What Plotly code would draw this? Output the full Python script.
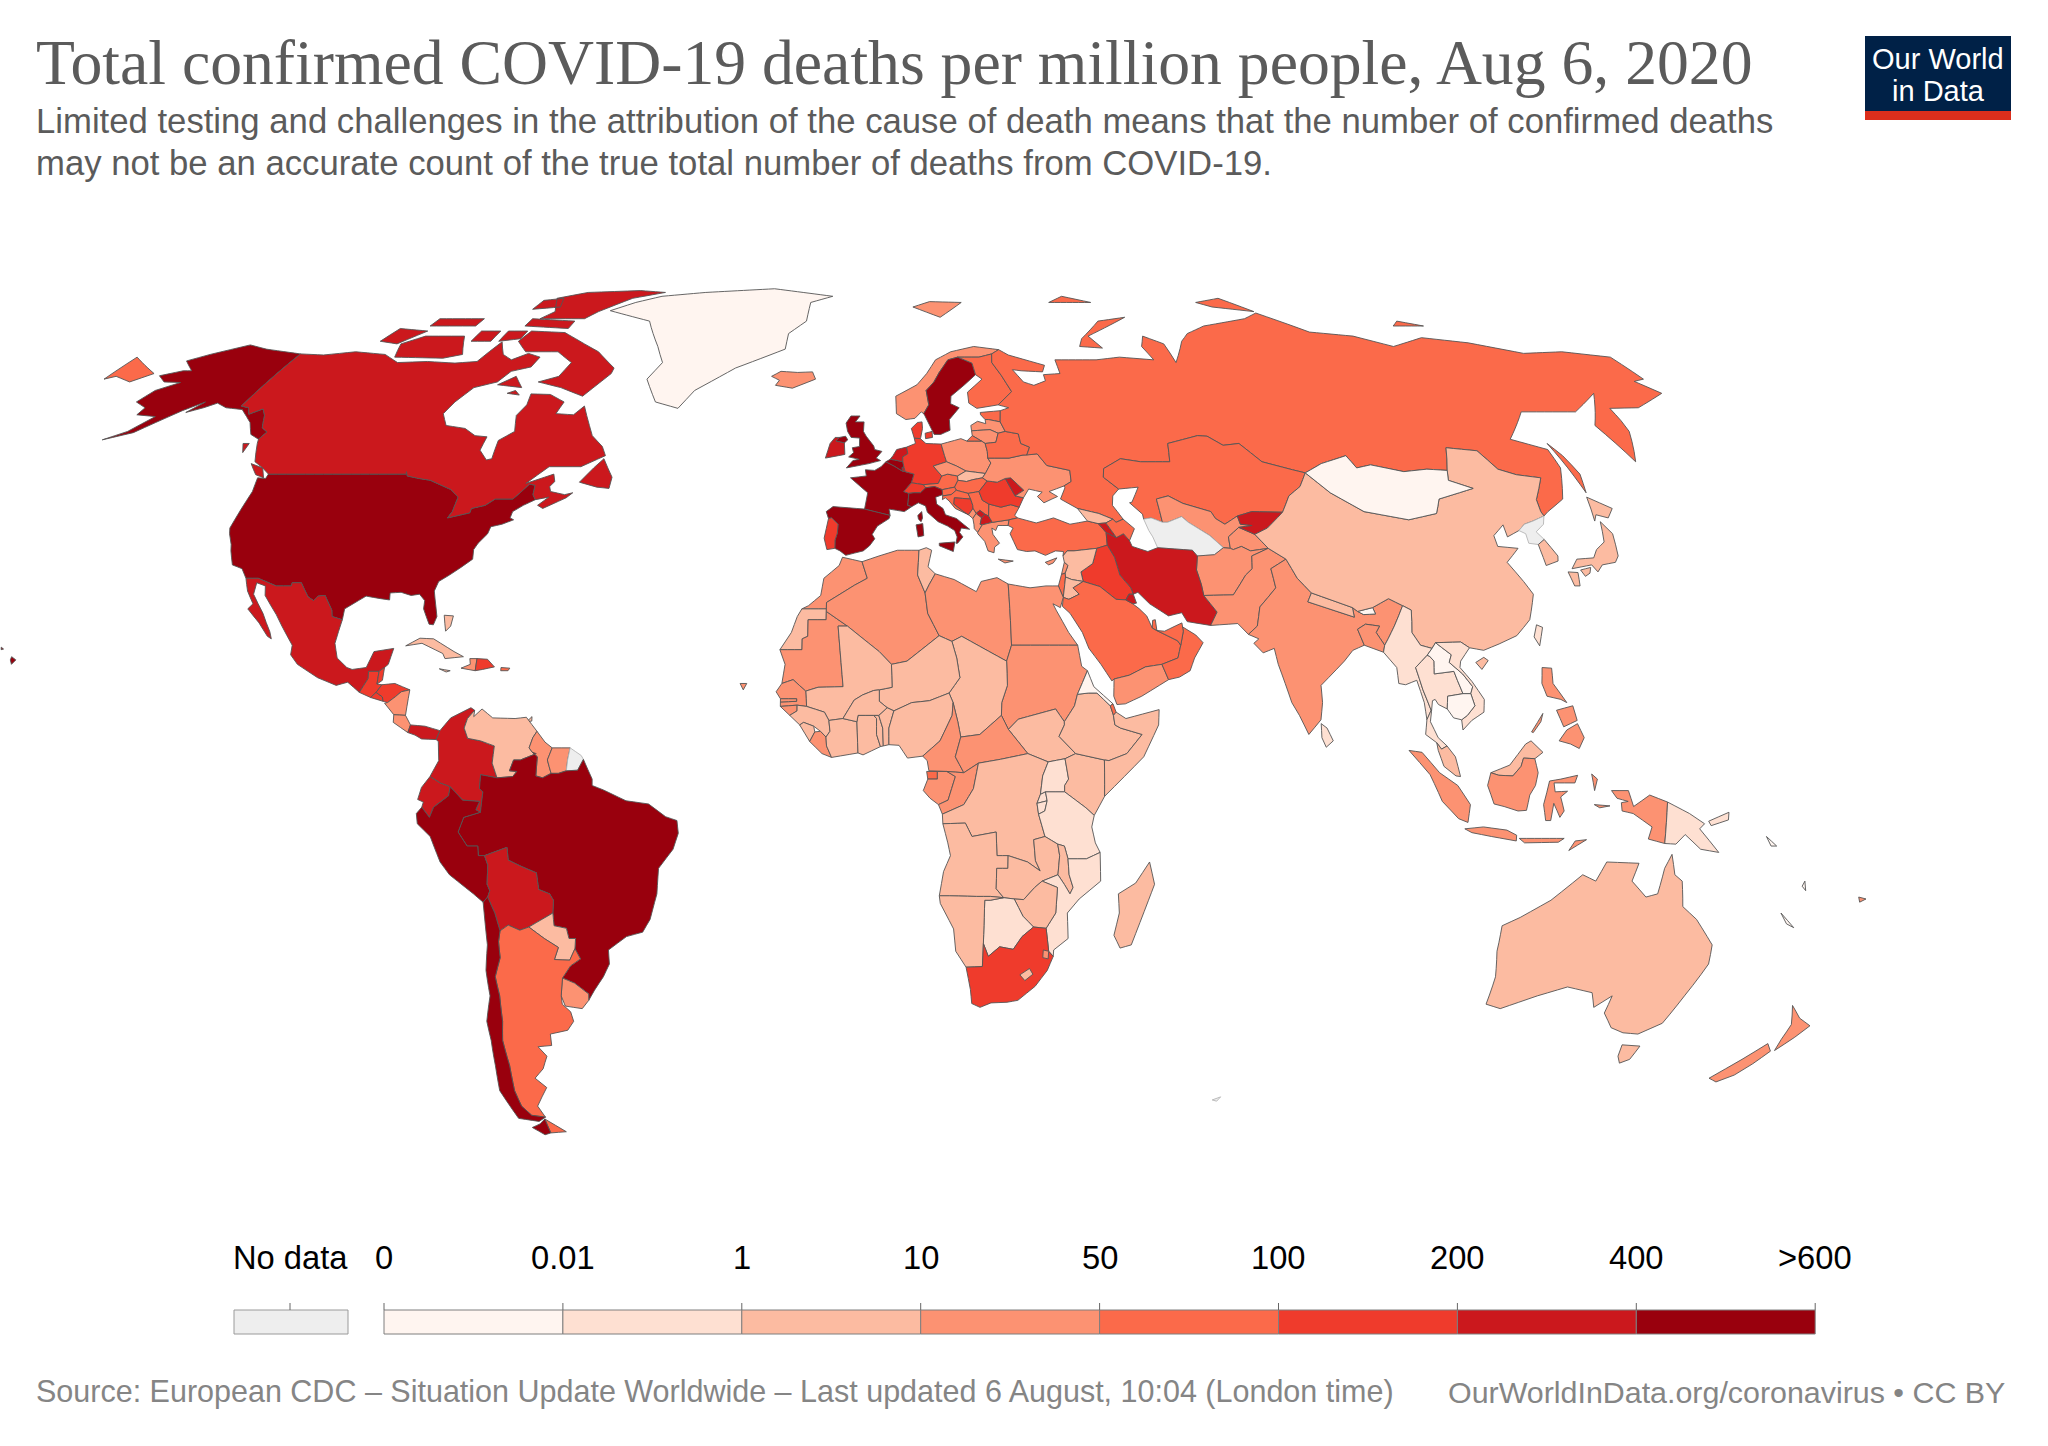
import plotly.graph_objects as go

# legend classes, lightest to darkest
bin_labels = ["0", "0.01", "1", "10", "50", "100", "200", "400", ">600"]
bin_colors = ["#fff5f0", "#fee0d2", "#fcbba1", "#fc9272", "#fb6a4a", "#ef3b2c", "#cb181d", "#99000d"]
no_data_color = "#eeeeee"

# class each country falls in
bin_0 = ["GRL", "MNG", "LAO", "KHM", "BTN", "ERI", "NCL", "VUT", "SLB"]
bin_1 = ["MMR", "THA", "VNM", "TWN", "LKA", "PNG", "UGA", "TZA", "RWA", "BDI", "MOZ", "BWA"]
bin_2 = ["CUB", "JAM", "VEN", "PRY", "SVK", "SYR", "JOR", "NPL", "MYS", "CHN", "JPN", "AUS", "KOR",
         "TUN", "ESH", "MLI", "NER", "TCD", "SSD", "ETH", "SOM", "KEN", "COD", "NGA", "BEN", "TGO",
         "GHA", "CIV", "GIN", "SLE", "BFA", "AGO", "ZMB", "MWI", "ZWE", "NAM", "LSO", "MDG", "GEO",
         "BHS", "TTO"]
bin_3 = ["NIC", "CRI", "GUY", "SUR", "URY", "ISL", "NOR", "POL", "CZE", "UKR", "LTU", "LVA", "HTI",
         "MNE", "ALB", "GRC", "CYP", "LBN", "YEM", "UZB", "TJK", "AFG", "PAK", "IND", "BGD",
         "IDN", "PHL", "NZL", "FJI", "MAR", "DZA", "LBY", "EGY", "MRT", "SDN", "COG", "GAB",
         "CMR", "CAF", "LBR", "GNB", "SEN", "GMB", "SWZ", "CPV"]
bin_4 = ["ARG", "AUT", "FIN", "HUN", "EST", "BGR", "SRB", "HRV", "SVN", "RUS", "TUR", "AZE", "ISR",
         "SAU", "QAT", "ARE", "OMN", "KAZ", "DJI", "BLR", "GNQ", "PRI"]
bin_5 = ["GTM", "HND", "SLV", "BLZ", "DOM", "PRT", "DEU", "CHE", "DNK", "ROU", "BIH", "IRQ", "ZAF"]
bin_6 = ["CAN", "MEX", "PAN", "COL", "ECU", "BOL", "IRL", "NLD", "LUX", "MDA", "MKD", "ARM", "IRN",
         "KWT", "KGZ", "XKX"]
bin_7 = ["USA", "PER", "BRA", "CHL", "GBR", "FRA", "ESP", "BEL", "ITA", "SWE"]
no_data = ["GUF", "TKM", "PRK", "ATF"]

# rough country outlines as lon,lat rings, estimated by eye
outlines = {
    "USA": [
        "-123,49 -95,49 -95.2,49.4 -94.6,48.7 -92,48.3 -89.5,48 -84.5,46.5 -82.5,45.3 -82.5,43 -83,42 -79,42.8 -79,43.5 -76.5,44 -75,45 -71.5,45 -70.3,46.2 -69.2,47.4 -68,47.2 -67.8,45.7 -67,44.9 -69,44 -70.7,43 -70.8,42 -70,41.7 -72,41 -74,40.6 -74.2,39.5 -75.5,38 -76,37 -75.7,35.5 -77.5,34.2 -79.3,33 -81,32 -81.4,30.5 -80.5,28 -80,26.5 -80.4,25.2 -81.2,25.3 -82.7,27.7 -82.8,29 -84,30 -85.5,29.8 -87.5,30.3 -89.5,30.2 -89.3,29.1 -91,29.3 -93.8,29.7 -95,29 -97.2,27.7 -97.2,26 -99.2,26.5 -99.5,27.5 -101.4,29.8 -102.7,29.7 -103.3,29 -104.5,29.6 -106.5,31.8 -108.2,31.8 -108.2,31.3 -111,31.3 -114.8,32.5 -117.1,32.5 -118.5,34 -120.6,34.6 -122,36.8 -122.5,37.8 -123.8,39.5 -124.3,40.4 -124.2,42 -124,46.2 -124.7,48.4 -123,48.3",
        "-141,69.6 -141,60.3 -139,60 -137.5,58.9 -135.5,59.8 -133.8,58.7 -131.8,56.6 -130,55.9 -130.5,54.7 -133,55.5 -135.5,57.5 -137.5,58.5 -140,59.7 -144,60 -147,60.8 -149,60 -151.8,59.2 -150,61 -153,59.5 -156,57.5 -158.5,55.8 -163.5,54.6 -160,56 -157.5,58.5 -162,58.8 -162,60 -165.5,61 -164.5,63 -161,64.4 -165,64.5 -168,65.6 -164,66.5 -162,66.5 -166.5,68.3 -163,69.5 -156.5,71.3 -151,70.5",
        "-155.9,20.2 -155,19.7 -155.6,19 -156,19.7",
        "-158.2,21.7 -157.7,21.4 -158.1,21.3",
    ],
    "CAN": [
        "-141,69.6 -135,69.4 -128,70 -120,69.5 -115,68 -108,68.2 -101,67.9 -96,68.2 -94,71.9 -91,69.5 -88,68.5 -85,69.7 -81.5,69 -82,67.2 -86,66.4 -87.5,64.5 -92,63.5 -94,61 -94.8,59 -92.5,57 -88,56.5 -85,55.3 -82.3,55.1 -82.3,52.9 -80,51.3 -79,51.5 -79.5,54.5 -77,56 -78.5,58.7 -77.5,60.5 -78,62.4 -73.5,62.3 -69.5,61 -70,59 -66,58.8 -64.5,60.3 -61.5,57 -60,55.3 -57,53.5 -55.7,52 -60,50.2 -66.5,50.2 -70,47.5 -65,49 -64.3,47.8 -65,47 -64.5,46.2 -61.5,45.7 -60,46 -61,45.2 -65,43.5 -66.2,44 -64.5,45.3 -67,44.9 -67.8,45.7 -68,47.2 -69.2,47.4 -70.3,46.2 -71.5,45 -75,45 -76.5,44 -79,43.5 -79,42.8 -83,42 -82.5,43 -82.5,45.3 -84.5,46.5 -89.5,48 -92,48.3 -94.6,48.7 -95.2,49.4 -95,49 -123,49 -125,50 -127.5,51 -130,54 -130.5,54.7 -130,55.9 -131.8,56.6 -133.8,58.7 -135.5,59.8 -137.5,58.9 -139,60 -141,60.3",
        "-62,66 -66,62 -72,63.5 -78,64.5 -74,65.5 -73,68 -78,70 -86,70 -90,72 -89,74 -80,73.7 -76,72.5 -68,70 -62,67",
        "-117,69 -105,68.8 -101,69.5 -105,73 -115,73 -119,71.5",
        "-125,72 -120,71.5 -116,74 -124,74.5",
        "-90,76.5 -78,76.5 -76,78 -70,81 -62,82.5 -70,83 -85,82.5 -92,81 -88,78",
        "-92,75 -80,74.5 -80,76 -92,76.5",
        "-95,72 -90,72.5 -90,74 -95,74",
        "-95,78.5 -88,79 -90,81 -95,80.5",
        "-117,75 -105,75 -105,76.5 -117,76.5",
        "-102,72 -97,72 -97,74 -102,74",
        "-59.3,47.7 -55.5,46.9 -53,46.7 -53,48.5 -55.8,51.5 -57.3,50",
        "-128,50.7 -125,50 -123.5,48.4 -125.5,48.9",
        "-87,64 -81,63.5 -84,65.5",
        "-83.5,62.5 -80.5,62.2 -82,63",
        "-133,54 -131.7,54 -131.5,52.5",
    ],
    "GRL": ["-73,78.2 -60,76 -54,71 -51,68 -53,65 -49,61 -43.5,59.9 -41,63 -33,67 -22,70.5 -22,73.5 -18,76 -18,80 -12,81.5 -30,83.5 -50,82.5 -62,81.5 -68,80"],
    "ISL": ["-24,65.5 -22,66.4 -18,66.2 -14.5,66.3 -13.6,65 -18.7,63.4 -22.7,63.9 -22,64.8"],
    "MEX": ["-117.1,32.5 -114.8,32.5 -111,31.3 -108.2,31.3 -108.2,31.8 -106.5,31.8 -104.5,29.6 -103.3,29 -102.7,29.7 -101.4,29.8 -99.5,27.5 -99.2,26.5 -97.2,26 -97.8,22.3 -97,20 -95,18.5 -94,18.2 -91.5,18.5 -90.5,21 -87,21.5 -87.6,19 -88.2,18.5 -89.1,17.9 -91,17.9 -90.9,16.8 -92.2,14.6 -94.5,16.2 -96.5,15.7 -100,16.9 -104,19 -105.5,20.5 -105.5,22 -108,25 -109.5,26.8 -112.5,29.8 -113,31.3 -114.8,31.8 -114.7,30 -112,27 -110,24.1 -109.5,23 -110.3,23.4 -112.3,25.5 -115,27.7 -114.3,28.5 -116,30.5"],
    "GTM": ["-92.2,14.6 -90.9,16.8 -91,17.9 -89.1,17.9 -89.2,15.9 -88.3,15.8 -89.2,14.6 -90.1,13.8"],
    "BLZ": ["-88.2,18.5 -89.1,17.9 -89.2,15.9 -88.3,16.5"],
    "SLV": ["-90.1,13.8 -89.2,14.6 -88,13.9 -87.8,13.2"],
    "HND": ["-88.3,15.8 -86,16 -83.2,15 -84.7,14.7 -85.7,13.9 -87,13 -87.8,13.2 -88,13.9 -89.2,14.6"],
    "NIC": ["-87,13 -85.7,13.9 -84.7,14.7 -83.2,15 -83.6,11 -85.7,11.1 -87.5,12.9"],
    "CRI": ["-85.7,11.1 -83.6,11 -82.6,9.5 -83,8.3 -85.7,9.9"],
    "PAN": ["-83,8.3 -82.6,9.5 -80,9.3 -77.3,8.6 -77.9,7.2 -80.5,7.3 -81.7,7.9"],
    "CUB": ["-84.9,21.9 -82.5,23.1 -80,23 -76,21 -74.2,20.2 -77.5,19.9 -78,20.7 -82,22.3"],
    "HTI": ["-74.4,18.4 -71.8,18 -71.7,19.9 -73,19.9 -72.8,19"],
    "DOM": ["-71.8,18 -71.7,19.9 -69.8,19.8 -68.4,18.6 -70.5,18.2"],
    "JAM": ["-78.3,18.3 -76.3,18 -77,17.8"],
    "PRI": ["-67.2,18.5 -65.6,18.4 -65.9,18 -67.2,18"],
    "BHS": ["-78.7,26.7 -77,26.6 -77.2,25 -78,24.2"],
    "TTO": ["-61.9,10 -61,10.8 -61,10.1"],
    "COL": ["-77.3,8.6 -75.5,10.6 -72,12.2 -71.3,11.8 -72.5,10.5 -73,9 -72.3,7.4 -70,7 -67.5,6.2 -67.8,3.5 -67.2,2 -66.9,1.2 -69.8,1.7 -70,-0.5 -69.4,-1 -69.9,-4.2 -70.7,-3.8 -70,-2.5 -73,-2.3 -75.2,-0.2 -77,0.4 -78.8,1.4 -77.3,3.9 -77.5,6.9 -77.9,7.2"],
    "VEN": ["-71.3,11.8 -71.4,10.8 -70,12 -68,10.6 -64,10.5 -62,10.7 -60,8.5 -60.7,7.5 -61.3,5.9 -60.7,5.2 -60,5 -62.8,4 -64,4 -64.7,2.3 -63.4,2.2 -64.1,1.4 -66.9,1.2 -67.2,2 -67.8,3.5 -67.5,6.2 -70,7 -72.3,7.4 -73,9 -72.5,10.5"],
    "GUY": ["-60,8.5 -58.5,6.8 -57.2,5.9 -58,4 -57.3,1.9 -58.8,1.2 -60,1.5 -59.8,4.5 -60.7,5.2 -61.3,5.9 -60.7,7.5"],
    "SUR": ["-57.2,5.9 -54,5.9 -54.4,4 -54.6,2.3 -56,1.9 -57.3,1.9 -58,4"],
    "GUF": ["-54,5.9 -52,4.7 -51.6,4.1 -52.6,2.4 -54.6,2.3 -54.4,4"],
    "BRA": ["-51.6,4.1 -50,1 -50,0 -48,-0.7 -44,-2.4 -40,-2.9 -37,-4.9 -35,-5.5 -34.8,-7.5 -35.8,-10 -38.5,-13 -39,-17 -40.5,-21 -42,-23 -45,-23.7 -48.5,-25.8 -48.6,-28 -50,-30 -52,-32.1 -53.4,-33.7 -53.2,-32.7 -55.5,-31 -57.6,-30.2 -55.8,-28.3 -53.8,-27.2 -54.6,-25.6 -54.3,-24 -55.5,-24 -55.8,-22.4 -58,-22 -58,-20 -57.7,-18 -58.3,-17 -60.2,-16.3 -60.4,-13.7 -63,-12.7 -65.3,-11.7 -65.4,-9.7 -69.5,-11 -70.6,-11 -70.6,-9.5 -72.5,-9.5 -74,-7.3 -72.9,-5 -69.9,-4.2 -69.4,-1 -70,-0.5 -69.8,1.7 -66.9,1.2 -64.1,1.4 -63.4,2.2 -64.7,2.3 -64,4 -62.8,4 -60,5 -60.7,5.2 -59.8,4.5 -60,1.5 -58.8,1.2 -57.3,1.9 -56,1.9 -54.6,2.3 -52.6,2.4"],
    "ECU": ["-78.8,1.4 -77,0.4 -75.2,-0.2 -75.5,-1.6 -78.2,-3.4 -79,-5 -80.3,-3.4 -80,-2.6 -81,-2.2 -80.3,-0.3"],
    "PER": ["-80.3,-3.4 -79,-5 -78.2,-3.4 -75.5,-1.6 -75.2,-0.2 -73,-2.3 -70,-2.5 -70.7,-3.8 -69.9,-4.2 -72.9,-5 -74,-7.3 -72.5,-9.5 -70.6,-9.5 -70.6,-11 -69.5,-11 -69,-12.5 -69.4,-15.5 -69,-16.5 -69.5,-17.5 -70.4,-18.3 -72,-17 -76,-14 -77.5,-12 -79,-8 -81.2,-6 -81.3,-4.4"],
    "BOL": ["-69.5,-11 -65.4,-9.7 -65.3,-11.7 -63,-12.7 -60.4,-13.7 -60.2,-16.3 -58.3,-17 -57.7,-18 -58,-20 -62.6,-22.2 -64.3,-22.7 -66.3,-21.9 -67.9,-22.8 -68.5,-20 -69.5,-17.5 -69,-16.5 -69.4,-15.5 -69,-12.5"],
    "PRY": ["-58,-20 -58,-22 -55.8,-22.4 -55.5,-24 -54.3,-24 -54.6,-25.6 -55.8,-27.4 -58.6,-27.3 -57.6,-25.4 -60,-24 -62.6,-22.2"],
    "URY": ["-57.6,-30.2 -55.5,-31 -53.2,-32.7 -53.4,-33.7 -54.9,-35 -58,-34.6 -58.4,-33"],
    "ARG": [
        "-66.3,-21.9 -64.3,-22.7 -62.6,-22.2 -60,-24 -57.6,-25.4 -58.6,-27.3 -55.8,-27.4 -54.6,-25.6 -53.8,-27.2 -55.8,-28.3 -57.6,-30.2 -58.4,-33 -58.5,-34.3 -57.2,-35.5 -57,-37 -58.5,-38.4 -62,-39 -62.3,-40.8 -65,-41 -63.8,-42.5 -65.3,-44.5 -67.5,-46 -65.8,-47.5 -69,-50.5 -68.3,-52.3 -71,-52 -72.3,-50.5 -72.5,-48 -71.7,-44 -71.5,-40 -70.5,-37 -69.9,-33 -70,-30 -68.5,-27 -68.4,-24.5 -67.9,-22.8",
        "-68.6,-52.6 -65.2,-54.7 -68.6,-54.9",
    ],
    "CHL": [
        "-70.4,-18.3 -69.5,-17.5 -68.5,-20 -67.9,-22.8 -68.4,-24.5 -68.5,-27 -70,-30 -69.9,-33 -70.5,-37 -71.5,-40 -71.7,-44 -72.5,-48 -72.3,-50.5 -71,-52 -68.3,-52.3 -70,-53 -74,-52.5 -75.5,-48 -74.5,-44 -73.7,-40 -73.5,-37 -71.7,-33 -71.5,-29 -70.5,-25",
        "-68.6,-52.6 -68.6,-54.9 -70,-55.2 -72,-54 -70,-53.4",
    ],
    "GBR": [
        "-5.6,50 -1,50.7 1.4,51.2 0.5,51.6 1.7,52.7 0.2,53 0,53.6 -1.6,55.2 -2.2,56 -2.1,57.6 -4,57.6 -3,58.6 -5,58.6 -6,57.4 -5.6,56 -4.8,55 -3,54.9 -3,53.5 -4.5,53.3 -4.2,52.5 -5.2,51.8 -3,51.4 -4.3,51.2",
        "-6,55.2 -7.3,55 -8,54.4 -6.2,54.1 -5.5,54.6",
    ],
    "IRL": ["-7.3,55 -8,54.4 -6.2,54.1 -6,52.2 -10,51.6 -9.2,54 -8.2,55"],
    "FRA": [
        "2.5,51 4.2,50.3 5.8,49.5 6.4,49.4 8.2,49 7.6,47.6 6,46.2 7,45.9 6.7,44 7.5,43.8 6,43 3,43.4 3.2,42.4 -1.8,43.4 -1.2,46 -4.7,48.4 -1.5,48.7 -1.7,49.7 0.2,49.6 1.5,50.2",
        "8.6,42.4 9.4,43 9.5,42 9.2,41.4 8.7,41.8",
    ],
    "LUX": ["5.8,49.5 6.4,49.4 6.2,50.1 5.8,50.1"],
    "BEL": ["2.5,51 3.4,51.4 4.3,51.3 6,51 6.2,50.1 5.8,50.1 5.8,49.5 4.2,50.3"],
    "NLD": ["3.4,51.4 4,52 4.8,53 6.9,53.4 7.1,52.3 6,51.8 6,51 4.3,51.3"],
    "DEU": ["6.9,53.4 8.8,54 8.6,54.9 9.9,54.8 11,54 14.2,53.9 14.7,52 15,51 12.2,50.3 13.8,48.7 13,47.5 10,47.3 7.6,47.6 8.2,49 6.4,49.4 6.2,50.1 6,51 6,51.8 7.1,52.3"],
    "DNK": [
        "8.6,54.9 8.1,56.5 9.5,57.5 10.5,57.6 10.5,56.5 10,55 9.9,54.8",
        "11,55.7 12.5,56 12.5,55 11,54.8",
    ],
    "CHE": ["6,46.2 7.6,47.6 10,47.3 10.4,46.8 9.3,46 8,46 7,45.9"],
    "AUT": ["10,47.3 13,47.5 13.8,48.7 15,49 17,48.7 17,48 16.2,46.9 13.7,46.5 12.2,47 10.4,46.8"],
    "ITA": [
        "7.5,43.8 6.7,44 7,45.9 8,46 9.3,46 10.4,46.8 12.2,47 13.7,46.5 13.7,45.7 12.3,45.3 12.4,44.2 13.6,43.5 14,42.5 16.1,41.9 18.5,40.2 16.9,40.4 16.5,39.7 17.1,39 16,38 15.7,38 16,39 15.6,40 14.3,40.7 12.5,41.4 10.5,42.9 10.2,43.9 8.8,44.4",
        "12.5,38 15.5,38.2 15.1,36.7 12.5,37.6",
        "8.2,40.9 9.5,41.1 9.6,39.2 8.5,39",
    ],
    "ESP": ["-9.3,43 -8,43.8 -1.8,43.4 3.2,42.4 3,41.9 0.7,40.7 -0.3,39.4 0.2,38.7 -0.8,37.6 -2,36.8 -5.3,36.1 -6.4,36.8 -7.4,37.2 -7.4,38.5 -7,39.6 -6.9,41 -8.2,42 -8.8,41.9"],
    "PRT": ["-8.8,41.9 -8.2,42 -6.9,41 -7,39.6 -7.4,38.5 -7.4,37.2 -8.9,37 -9.5,38.8"],
    "NOR": [
        "7,58 5,59 5,62 10,64 12.5,66 15,68.5 19,70 25,71 31,70.4 29,69.6 25.7,69 20.5,69 18,68.5 15.5,66.2 14,64.5 12,63 12.3,60.5 11,59 10.5,59.3 9,58.2",
        "11,79 18,76.8 25,80 16,80.2",
    ],
    "SWE": ["11,59 12.3,60.5 12,63 14,64.5 15.5,66.2 18,68.5 20.5,69 23.7,67.9 24,65.8 21,64 17.5,62 17.2,60.7 19,60 16.5,58 16.4,56.2 14.3,55.5 12.9,55.5 11.2,58.7"],
    "FIN": ["20.5,69 25.7,69 29,69.6 28.5,68 30,65.7 31.5,62.8 27.8,60.5 22.9,59.9 21.3,60.8 21.4,62.7 25.3,65 24,65.8 23.7,67.9"],
    "EST": ["23.5,59.2 28,59.5 27.5,57.6 25,58 24.3,58 23.5,58.8"],
    "LVA": ["21,56.1 21,57 22.6,57.7 24.3,57.3 24.3,58 25,58 27.5,57.6 28.2,56 26.6,55.7 25,56.3"],
    "LTU": ["21,56.1 25,56.3 26.6,55.7 25.8,54.2 23.5,54 22.8,54.4 21,55.3"],
    "POL": ["14.2,53.9 18.5,54.8 19.7,54.4 22.8,54.4 23.5,54 23.7,52.7 23.6,51.6 24.1,50.8 22.7,49.1 18.8,49.5 17,50.3 15,51 14.7,52"],
    "CZE": ["12.2,50.3 15,51 17,50.3 18.8,49.5 17,48.7 15,49 13.8,48.7"],
    "SVK": ["17,48.7 18.8,49.5 22.7,49.1 22,48.4 20,48.1 18.7,47.8 17,48"],
    "HUN": ["17,48 18.7,47.8 20,48.1 22,48.4 22.9,47.9 21,46.2 20.3,46.1 18.8,45.9 16.5,46.4 16.2,46.9"],
    "SVN": ["13.7,46.5 16.2,46.9 16.5,46.4 15.4,45.7 13.7,45.5 13.7,45.7"],
    "HRV": ["13.7,45.5 15.4,45.7 16.5,46.4 18.8,45.9 19.2,45 16,45.2 15.8,44.2 17.6,43 18.5,42.5 16,43.5 14.9,44.7 14.2,45.2 13.6,44.9"],
    "BIH": ["16,45.2 19.2,45 19.5,44 19.5,43.5 18.5,42.5 17.6,43 15.8,44.2"],
    "SRB": ["19.2,45 18.8,45.9 20.3,46.1 21,46.2 21.5,44.8 22.7,44.2 22.4,42.3 21.7,42.6 20.8,43.2 20,42.7 19.5,43.5 19.5,44"],
    "XKX": ["20,42.7 20.8,43.2 21.7,42.6 21,42"],
    "MNE": ["18.5,42.5 19.5,43.5 20,42.7 19.3,41.9"],
    "ALB": ["19.3,41.9 20,42.7 21,42 20.6,41 21,40.9 20,39.7 19.4,40.3 19.4,41"],
    "MKD": ["21,42 21.7,42.6 22.4,42.3 23,41.3 21,40.9 20.6,41"],
    "GRC": [
        "20,39.7 21,40.9 23,41.3 26.3,41.7 26,40.8 24,40.8 23.5,40 22.8,40.4 22.9,39.4 24,38 23,37.4 22.8,36.5 21.7,36.8 21.2,38.3 20,39.5",
        "23.5,35.5 26.3,35.2 24.7,34.9",
    ],
    "BGR": ["22.7,44.2 25,43.7 27,44.1 28.6,43.7 27.5,42.4 28,42 26.3,41.7 23,41.3 22.4,42.3"],
    "ROU": ["21.5,44.8 21,46.2 22.9,47.9 24.9,47.7 26.6,48.3 28.1,45.5 29.7,45.2 28.6,43.7 27,44.1 25,43.7 22.7,44.2"],
    "MDA": ["26.6,48.3 27.7,48.4 30,46.4 28.1,45.5"],
    "UKR": ["22.7,49.1 24.1,50.8 23.6,51.6 28,51.6 31,52.1 34,52.3 35.5,50.4 40,49.6 39.8,47.8 38.2,47.1 35,46.2 36.5,45.4 35.3,45 33.6,44.4 32.5,45.4 33.6,46.1 31,46.6 29.7,45.2 28.1,45.5 30,46.4 27.7,48.4 26.6,48.3 24.9,47.7 22.9,47.9 22,48.4"],
    "BLR": ["23.7,52.7 23.5,54 25.8,54.2 26.6,55.7 28.2,56 30.9,55.6 31,54 32.7,53.4 31.8,52.1 31,52.1 28,51.6 23.6,51.6"],
    "TUR": ["26.3,41.7 28,42 31.5,41.2 35,42 38,41 41.5,41.5 43.5,41.1 44.7,39.7 44.5,37.7 42.4,37.2 38,36.8 36.7,36.8 35.8,36 36,36.7 34.5,36.8 32.5,36.1 30.6,36.8 29,36.7 27.3,37 26.2,39.5 26.9,40.4 26,40.8"],
    "CYP": ["32.3,35 34.6,35.7 33.8,34.9 32.9,34.6"],
    "RUS": [
        "28,59.5 30,60 27.8,60.5 31.5,62.8 30,65.7 28.5,68 29,69.6 31,70.4 33,69.4 41,67.5 40,66.3 35,66.5 33,66.7 34.8,64.5 37,63.9 40,64.7 40,65.8 44,66 44,68.5 54,68.5 60,69 68,68.5 67,71 69,73 73,71.5 73,68 78,72 81,73.5 87,75 100,76.5 105,77.7 113,73.8 123,73 130,71 140,72.7 150,71.7 160,69.7 170,70 179.9,69 179.9,65 177,64.6 179.5,62.5 170,60 163.5,59.9 162.8,57.8 162,56 157,51 156,57 164,62.5 155,59.3 143,59.3 135,54.7 141,53 140.5,50 136.5,45 132,43 130.7,42.3 130.6,43 131.2,44.9 135,48.4 130.5,48.9 127.5,49.8 126,52.8 120,53.3 117,49.6 113,49.8 108,49.4 102,50.5 98.8,50 98,52 92,50.7 87.8,49.2 85.5,49.7 80,51 77,54 73.5,53.7 71,55.2 69,55.3 62,54 61,51 55,51 51,51.5 47,49.9 46.5,48.5 49,46.6 47.5,45.5 47,44 47.7,43 48.5,41.8 47,41.3 46.5,41.8 44,42.7 40,43.5 37,45 38.3,46.8 38.2,47.1 39.8,47.8 40,49.6 35.5,50.4 34,52.3 31.8,52.1 32.7,53.4 31,54 30.9,55.6 28.2,56 27.5,57.6",
        "21,55.3 22.8,54.4 19.7,54.4",
        "51.5,71 57,70.7 55,73 68,76.8 60,76 53,72.5",
        "142,54 143,52 143.5,49 142,46 142,50",
        "95,79 105,78 100,81 92,80",
        "137,75 145,75 140,76",
        "50,80 62,80 55,81.5",
        "-179.9,69 -175,67.5 -170,66 -173,64.5 -178,65.5 -179.9,65",
    ],
    "KAZ": ["46.5,48.5 47,49.9 51,51.5 55,51 61,51 62,54 69,55.3 71,55.2 73.5,53.7 77,54 80,51 85.5,49.7 87.8,49.2 85.5,47 82.5,45.5 80,42.9 74,43 70.9,42.3 68,41 66.5,41.9 66,43 61,44.3 58.5,45.5 56,45 56,41.3 54,42 52.5,41.8 52.5,42.6 50.5,44.4 51,44.5 53,46.9 49,46.6"],
    "UZB": ["56,45 58.5,45.5 61,44.3 66,43 66.5,41.9 68,41 70.9,42.3 71,41 73.2,40.8 70.5,40.5 68,39 67.8,37.2 66.5,37.3 64.5,39.2 61,41.3 60,42.2 57,41.3 56,41.3"],
    "TKM": ["52.5,41.8 54,42 56,41.3 57,41.3 60,42.2 61,41.3 64.5,39.2 66.5,37.3 64.5,36.2 61.2,36 60.5,36.9 54,37.3 53.5,39 53,40"],
    "TJK": ["67.8,37.2 68,39 70.5,40.5 73.2,39.4 75,37.2 71.5,36.8 70,37.5 68.3,37"],
    "KGZ": ["70.9,42.3 74,43 80,42.9 76,40.4 73.2,39.4 70.5,40.5 73.2,40.8 71,41"],
    "AFG": ["61.2,36 64.5,36.2 66.5,37.3 67.8,37.2 68.3,37 70,37.5 71.5,36.8 75,37.2 71.5,36 71,34 69.5,33 66.5,29.9 61,29.8 60.9,31.5 60.5,33.8"],
    "IRN": ["44.7,39.7 46.5,38.9 48,39.5 48.9,38.4 49.2,37.5 52,36.7 54,37.3 60.5,36.9 61.2,36 60.5,33.8 60.9,31.5 61,29.8 63,27.2 61.5,25.1 57.3,25.7 56.5,27.1 54,26.6 50.8,28.5 48.9,30.3 48,30 47.7,31 46,33 45.5,35.8 44.5,37.7"],
    "IRQ": ["44.5,37.7 45.5,35.8 46,33 47.7,31 48,30 47.2,30 46.5,29.1 44.7,29.2 42,31.2 39,32 38.8,33.5 41.2,34.8 42.4,37.2"],
    "SYR": ["35.8,36 36.7,36.8 38,36.8 42.4,37.2 41.2,34.8 38.8,33.5 39,32 36.9,32.3 35.8,32.7 35.8,33.3 36.5,34.5 35.9,35"],
    "LBN": ["35.9,35 36.5,34.5 35.8,33.3 35.1,33.1"],
    "ISR": ["35.1,33.1 35.8,33.3 35.8,32.7 35.5,31.5 35,29.5 34.3,31.3"],
    "JOR": ["35.8,32.7 36.9,32.3 39,32 37,31 38,30 36,29.2 35,29.5 35.5,31.5"],
    "SAU": ["35,29.5 36,29.2 38,30 37,31 39,32 42,31.2 44.7,29.2 46.5,29.1 47.7,28.5 48.8,27.7 50,26.6 50.8,24.7 51.6,24.3 55.2,22.7 55.7,22 55,20 52,19 49,18.6 46,17.3 43.2,16.7 42.8,16.4 41,19 39,21.5 38,24 36,27 34.7,28.1"],
    "YEM": ["43.2,16.7 46,17.3 49,18.6 52,19 53,16.6 48,14 45,12.8 43.5,12.7 43,14"],
    "OMN": ["52,19 55,20 55.7,22 56.4,24.2 56.3,24.9 58.6,23.6 59.8,22.4 58,20 57,18 55,17 53,16.6"],
    "ARE": ["51.6,24.3 55.2,22.7 55.7,22 56.4,24.2 56.3,25.5 55,25 53,24.2"],
    "QAT": ["50.8,24.7 51.6,24.3 51.5,26 51,25.9"],
    "KWT": ["46.5,29.1 47.2,30 48,30 48.4,28.6 47.7,28.5"],
    "GEO": ["40,43.5 44,42.7 46.5,41.8 45,41.2 43.5,41.1 41.5,41.5"],
    "ARM": ["43.5,41.1 45,41.2 46.5,38.9 44.7,39.7"],
    "AZE": ["45,41.2 46.5,41.8 47,41.3 48.5,41.8 50.3,40.3 48.9,38.4 48,39.5 46.5,38.9"],
    "PAK": ["61,29.8 66.5,29.9 69.5,33 71,34 71.5,36 75,37.2 77.8,35.5 74.5,34 74.6,31 71,28 70,25 68.2,23.7 66.5,25.4 61.5,25.1 63,27.2"],
    "IND": ["77.8,35.5 79,32.5 81,30.2 80,28.8 88,26.4 88,27.9 88.8,27.3 89.8,26.8 92,26.9 91.7,27.9 95,29.3 97.3,28.2 95,25 93.5,23 92.7,22 91.5,24 92.3,25 89.8,25.3 88.2,24.5 89,22 86.8,21.2 85,19.5 80.3,15.7 80.3,13 79.8,10.3 77.5,8 76,11 74.8,13 73,19 72.6,21.5 70.5,20.8 69,22.3 70,23 68.2,23.7 70,25 71,28 74.6,31 74.5,34"],
    "BGD": ["88.2,24.5 89.8,25.3 92.3,25 91.5,24 92.7,22 92.3,20.9 89,22"],
    "NPL": ["80,28.8 81,30.2 88,27.9 88,26.4"],
    "BTN": ["88.8,27.3 91.7,27.9 92,26.9 89.8,26.8"],
    "LKA": ["79.8,9.7 80.8,9 81.8,7 80.5,6 79.8,7.5"],
    "CHN": [
        "73.2,39.4 76,40.4 80,42.9 82.5,45.5 85.5,47 87.8,49.2 91,46 96,43 104,41.7 110,42.7 112,45 120,46.7 116,48 117,49.6 120,53.3 126,52.8 127.5,49.8 130.5,48.9 135,48.4 131.2,44.9 130.6,43 130.7,42.3 128,41.5 126,41 124.3,40 121.5,39 121.8,40.9 119,39.2 118.8,37.5 122.5,37.2 119.3,35 121,32 122,30 120,26 117,23.5 113.5,22.2 110.5,21.2 108,21.6 106.6,22.5 102,22.4 101.2,21.5 99.2,22 98,24 98.7,27.5 97.3,28.2 95,29.3 91.7,27.9 88.8,27.3 88,27.9 81,30.2 79,32.5 77.8,35.5 75,37.2",
        "108.7,19.3 110.3,20.1 111,19.6 109.6,18.2",
    ],
    "MNG": ["87.8,49.2 92,50.7 98,52 98.8,50 102,50.5 108,49.4 113,49.8 117,49.6 116,48 120,46.7 112,45 110,42.7 104,41.7 96,43 91,46"],
    "PRK": ["124.3,40 126,41 128,41.5 130.7,42.3 129.7,41 127.5,39.8 128.3,38.6 126.7,37.8 125,38 125.3,39.5"],
    "KOR": ["126.7,37.8 128.3,38.6 129.4,36 129,35.2 126.4,34.5 126.6,37"],
    "JPN": [
        "131,34 132.7,35.5 136,35.7 137.3,37 139.5,38.2 141,41.4 142,39.5 140.8,36 139.7,35 137,34.6 135.6,33.5 135,34.6 133,34.3",
        "140,41.5 141.5,45.3 145,43.5 143,42 141,42.5",
        "130,33.5 131.8,33.4 131.2,31.3 130.2,31.3",
        "132.5,33.8 134.6,34.2 134,33.3 132.9,32.8",
    ],
    "TWN": ["121,25.2 122,24.8 120.8,21.9 120.1,23.3"],
    "MMR": ["92.3,20.9 92.7,22 93.5,23 95,25 97.3,28.2 98.7,27.5 98,24 99.2,22 101.2,21.5 100.1,20.4 97.7,18.5 98.5,15 99.6,11.8 98.7,10.3 98.5,13 97.6,16.5 95.5,15.8 94.3,16 94.3,18.5"],
    "THA": ["100.1,20.4 100.5,20.3 101.2,19.5 100.9,17.5 104.5,17.9 104.9,16.5 105.6,14.4 102.8,14 102.5,12 101,12.7 100.5,13.5 100,13.3 99.3,10 100.5,7.5 102,6.2 101,5.7 100.2,6.7 98.3,8 98.7,10.3 99.6,11.8 98.5,15 97.7,18.5"],
    "LAO": ["101.2,21.5 102,22.4 102.9,21.7 104.5,20.5 103.9,19.3 106,17.5 107.5,15.5 107,14.4 105.6,14.4 104.9,16.5 104.5,17.9 100.9,17.5 101.2,19.5 100.5,20.3 100.1,20.4"],
    "VNM": ["102,22.4 106.6,22.5 108,21.6 106,19.5 105.7,18.5 107.5,16.3 109.3,13.5 109,11.5 106.7,10.2 105,8.7 104.9,10.3 106,11 107.5,12.5 107,14.4 107.5,15.5 106,17.5 103.9,19.3 104.5,20.5 102.9,21.7"],
    "KHM": ["102.5,12 102.8,14 105.6,14.4 107,14.4 107.5,12.5 106,11 104.9,10.3 103.5,10.6"],
    "MYS": [
        "100.2,6.7 101,5.7 102,6.2 103.4,4.5 104.2,1.4 103.4,1.5 101.3,3 100.4,5.5",
        "109.6,2 111,1.6 113.5,1.5 115,3 115.5,4.3 117.5,4.2 119,5.2 117,7 116,6.5 113,3.2 111.3,2.6",
    ],
    "IDN": [
        "95.2,5.5 97.5,5.2 100.5,2 103.7,0 106,-3 105.7,-5.8 104,-5.2 101,-2.5 98.8,1.7",
        "105.2,-6.8 108.5,-6.5 112.7,-7 114.5,-7.8 114.5,-8.7 110,-8 106.5,-7.4",
        "109.6,2 111,1.6 113.5,1.5 115,3 115.5,4.3 117.5,4.2 118,2 117.5,0 116.5,-1.5 116,-3.9 114.5,-4 112,-3.3 110.2,-2.9 109,0",
        "119.5,-5.5 119,-3 120,0.7 122,1 125,1.6 124.5,0.4 120.8,0.4 121,-1 123.2,-0.9 122,-1.8 122.7,-4 122,-5 120.8,-2.8 120.4,-5.5",
        "131,-0.8 134,-0.8 135,-3.3 137.8,-1.5 141,-2.6 141,-9.1 138,-8.4 138.5,-6.5 135,-4.4 133,-4 132.8,-2.7 134,-2.5 132,-2",
        "127.5,1.8 128.5,1 128,-0.8",
        "124,-10.2 127,-8.5 125,-8.7",
        "115,-8.3 119,-8.3 123,-8.3 122,-8.9 116,-9",
        "128,-3 130.8,-3.2 129,-3.5",
    ],
    "PHL": [
        "120.5,18.5 122.2,18.4 122,16 124,13 123,13.5 120.6,14 120,16",
        "122,7 123.5,8.7 125.5,9.7 126.5,7.5 125.5,5.8 124,6.5",
        "122,11.8 125,12.5 125.5,10.2 123,9.2",
        "117.2,8.4 119.5,11.3 119,10 117.5,8.3",
    ],
    "PNG": [
        "141,-2.6 145,-4.4 147.8,-6 147,-6.8 150.8,-10.5 147.5,-10 144.5,-7.7 143,-9.2 141,-9.1",
        "148.5,-5.6 152,-4.2 152,-5.4 149,-6.3",
    ],
    "AUS": [
        "114,-22 114,-26 115,-30 115,-34.3 118,-35 124,-33 129,-31.6 134,-32.5 135.5,-34.8 138,-33 138,-35.7 140.7,-38 143.5,-38.8 146.5,-39 150,-37.3 151.5,-33 153.5,-28 153,-25 149,-21 146,-19 145,-15 143.5,-14 142.5,-10.8 141.5,-13 141,-17 139,-17.5 136,-15 136.8,-12.2 131,-12 129.5,-15 127,-14 122,-18 117,-20.7",
        "144.7,-40.7 148.3,-40.9 148,-43 146.5,-43.6 145.3,-42.5",
    ],
    "NZL": [
        "172.7,-34.5 175.5,-36.5 178.4,-37.7 177,-39.5 175,-41.6 174.7,-39.8 174.7,-37.5",
        "172.7,-40.5 174.3,-41.7 172.8,-43.7 171,-45.5 168.5,-46.6 166.5,-46 170,-43",
    ],
    "NCL": ["164,-20 167,-22.3 165.5,-21.7"],
    "FJI": ["177.3,-17.5 178.7,-17.8 177.7,-18.3"],
    "VUT": ["167,-15 167.5,-16.5 166.7,-15.8"],
    "SLB": ["159,-8 161,-9.5 160,-9.5"],
    "ATF": ["69,-49.5 70.5,-49 70,-49.7"],
    "MAR": ["-5.9,35.8 -2.2,35.1 -1.2,32.5 -3.6,31.4 -8.7,28.7 -8.7,27.7 -13.2,27.7 -12,28.2 -9.8,29.8 -9.3,32.5 -6.5,34.5"],
    "ESH": ["-13.2,27.7 -8.7,27.7 -8.7,26 -12,26 -12,23.4 -13,23 -13,21.3 -17,21.3 -15,24 -14,26.5"],
    "MRT": ["-17,21.3 -13,21.3 -13,23 -12,23.4 -12,26 -8.7,26 -8.7,27.3 -4.8,25 -6.5,25 -5.5,15.5 -10,15.4 -12.2,14.8 -14.5,16.6 -16.5,16 -16,19"],
    "DZA": ["-2.2,35.1 1,36 4.5,36.9 8.6,36.9 8.2,33 9.5,30.2 9.9,27 11.9,23.5 6,19.5 3.2,19 1,21 -4.8,25 -8.7,27.3 -8.7,28.7 -3.6,31.4 -1.2,32.5"],
    "TUN": ["8.6,36.9 10,37.3 11,36.9 10.2,34.3 11.5,33.2 10.3,31.5 9.5,30.2 8.2,33"],
    "LBY": ["11.5,33.2 15,32.3 19,30.4 20,32 23,32.6 25,31.6 25,22 24,19.5 16,23.4 14.2,22.6 11.9,23.5 9.9,27 9.5,30.2 10.3,31.5"],
    "EGY": ["25,31.6 29,31 32,31.3 34.3,31.3 35,29.5 34.3,27.9 33,28.5 33.5,27.5 35.5,24 37,22 25,22"],
    "SDN": ["25,22 37,22 37.5,18.7 38.5,18 36.5,14.3 35.9,12.5 34,10 32.5,12 25.8,10.4 24,8.8 22.8,11 22.9,13 24,15.7 24,19.5"],
    "SSD": ["34,10 32.5,12 25.8,10.4 24,8.8 27.4,5 31,3.7 34,4.2 35.9,5 33,7.7 34,9.5"],
    "TCD": ["14.2,22.6 16,23.4 24,19.5 24,15.7 22.9,13 22.8,11 18.9,8 15.5,7.6 15,10 14.2,13 13.5,14.5 15.5,16.9 15,20"],
    "NER": ["3.2,19 6,19.5 11.9,23.5 14.2,22.6 15,20 15.5,16.9 13.5,14.5 10,13.3 6.8,13 3.6,11.7 2.4,12.2 1,13.2 1,15 3.3,15.4"],
    "MLI": ["-5.5,15.5 -6.5,25 -4.8,25 1,21 3.2,19 3.3,15.4 1,15 0,14.9 -2,14.2 -3.5,13.4 -5.5,10.5 -8,10.2 -8.8,11.5 -12,12.4 -12.2,14.8 -10,15.4"],
    "SEN": ["-16.5,16 -14.5,16.6 -12.2,14.8 -12,12.4 -13.7,12.6 -16.7,12.4 -16.7,13.1 -13.8,13.2 -13.8,13.6 -16.7,13.6 -17.5,14.7"],
    "GMB": ["-16.7,13.6 -13.8,13.6 -13.8,13.2 -16.7,13.1"],
    "GNB": ["-16.7,12.4 -13.7,12.6 -13.7,11.7 -15,11"],
    "GIN": ["-13.7,12.6 -12,12.4 -8.8,11.5 -8,10.2 -7.8,8.5 -8.5,7.6 -9.5,8.5 -10.7,9.3 -12.5,9.9 -13.2,9.5 -15,11 -13.7,11.7"],
    "SLE": ["-13.2,9.5 -12.5,9.9 -10.7,9.3 -10.5,8.4 -11.4,6.9"],
    "LBR": ["-11.4,6.9 -10.5,8.4 -9.5,8.5 -8.5,7.6 -8.4,6.2 -7.5,4.4 -9.2,5"],
    "CIV": ["-8.5,7.6 -7.8,8.5 -8,10.2 -5.5,10.5 -3,10 -2.8,5.1 -7.5,4.4 -8.4,6.2"],
    "GHA": ["-3,10 -2.8,11 0,11 0.5,10.5 0.5,8 1.2,6.1 -1.9,4.8 -2.8,5.1"],
    "TGO": ["0,11 0.9,11 1.6,9 1.7,6.2 1.2,6.1 0.5,8 0.5,10.5"],
    "BEN": ["0.9,11 2.4,12.2 3.6,11.7 2.7,9 2.7,6.4 1.7,6.2 1.6,9"],
    "BFA": ["-5.5,10.5 -3.5,13.4 -2,14.2 0,14.9 1,15 1,13.2 2.4,12.2 0.9,11 0,11 -2.8,11 -3,10"],
    "NGA": ["2.7,6.4 2.7,9 3.6,11.7 6.8,13 10,13.3 13.5,14.5 14.2,13 14,11 11.8,7 8.7,4.6 6,4.3 4.5,6.3"],
    "CMR": ["8.7,4.6 11.8,7 14,11 14.2,13 15,10 15.5,7.6 14.5,4.5 16,2 13,2.2 9.8,2.3 9.5,3.9"],
    "CAF": ["15.5,7.6 18.9,8 22.8,11 24,8.8 27.4,5 22.5,4.1 18.6,3.5 16,2 14.5,4.5"],
    "GNQ": ["9.4,2.2 11.3,2.2 11.3,1 9.6,1"],
    "GAB": ["9.6,1 11.3,1 11.3,2.2 13,2.2 14.5,1.4 13.2,-2.3 11.5,-3 10,-2 8.8,-0.8"],
    "COG": ["13,2.2 16,2 18.6,3.5 17.7,-0.5 16,-3 12.2,-4.5 11.5,-3 13.2,-2.3 14.5,1.4"],
    "COD": ["18.6,3.5 22.5,4.1 27.4,5 31,3.7 30,1.5 29.6,-1.4 29,-2.8 29.3,-4.5 30.5,-8 28.5,-8.5 28.9,-11.8 29.8,-13.4 27.5,-12 24,-11 22,-11 21.8,-7.3 17.5,-8 16.3,-5.9 12.3,-6 12.2,-4.5 16,-3 17.7,-0.5"],
    "UGA": ["30,1.5 31,3.7 34,4.2 34.6,1 33.9,0 33.9,-1 30.5,-1 29.6,-1.4"],
    "KEN": ["34,4.2 35.9,5 41,4 41,-1.7 39.2,-4.7 37.7,-3.5 33.9,-1 33.9,0 34.6,1"],
    "RWA": ["29.6,-1.4 30.5,-1 30.8,-2.4 29,-2.8"],
    "BDI": ["29,-2.8 30.8,-2.4 30.4,-4 29.3,-4.5"],
    "TZA": ["33.9,-1 37.7,-3.5 39.2,-4.7 38.8,-6.5 39.5,-9 40.4,-10.5 38,-11.5 34.7,-11.5 34,-9.5 32.8,-9.2 30.5,-8 29.3,-4.5 30.4,-4 30.8,-2.4 30.5,-1"],
    "ETH": ["36.5,14.3 38.5,14.5 40,14.5 42.3,12.5 42.8,11 43,9.5 44,9 47.8,8 45,5 41.8,3.9 41,4 35.9,5 33,7.7 34,9.5 34,10 35.9,12.5"],
    "ERI": ["38.5,18 39.5,15.5 42.8,12.8 42.3,12.5 40,14.5 38.5,14.5 36.5,14.3"],
    "DJI": ["42.3,12.5 42.8,12.8 43.3,11.5 42.8,11"],
    "SOM": ["42.8,11 43.3,11.5 45,10.5 51,11.9 50.8,9.5 48,4.5 41,-1.7 41,4 41.8,3.9 45,5 47.8,8 44,9 43,9.5"],
    "AGO": ["12.3,-6 16.3,-5.9 17.5,-8 21.8,-7.3 22,-11 24,-11 24,-13 22,-13 22,-16.2 23.4,-17.6 21,-17.4 18.5,-17.4 13.6,-17.3 11.8,-17.3 12.5,-13.5 13.7,-11 13.2,-9"],
    "ZMB": ["22,-13 24,-13 24,-11 27.5,-12 29.8,-13.4 28.9,-11.8 28.5,-8.5 30.5,-8 32.8,-9.2 33.2,-11 33,-14 30.2,-15 28.9,-16 27,-17.9 25.3,-17.8 23.4,-17.6 22,-16.2"],
    "MWI": ["32.8,-9.2 34,-9.5 34.7,-11.5 35,-14 35.8,-16 35.3,-17 34.2,-15.5 33,-14 33.2,-11"],
    "MOZ": ["34.7,-11.5 38,-11.5 40.4,-10.5 40.7,-15 37,-17.8 35,-20 35.4,-24 32.9,-25.8 32.9,-26.8 32,-26 31.3,-22.4 32.9,-20 33,-16 30.2,-15 33,-14 34.2,-15.5 35.3,-17 35.8,-16 35,-14"],
    "ZWE": ["25.3,-17.8 27,-17.9 28.9,-16 30.2,-15 33,-16 32.9,-20 31.3,-22.4 29,-22.2 27,-20.5"],
    "BWA": ["20,-18 21,-18 23.4,-17.6 25.3,-17.8 27,-20.5 29,-22.2 27,-23.7 25.5,-25.7 23,-25.3 21,-26.8 20,-24.8 20,-22"],
    "NAM": ["11.8,-17.3 13.6,-17.3 18.5,-17.4 21,-17.4 23.4,-17.6 21,-18 20,-18 20,-22 20,-24.8 20,-28.4 17,-28.5 15,-26 14.5,-22.5 12,-18.5"],
    "ZAF": ["17,-28.5 20,-28.4 20,-24.8 21,-26.8 23,-25.3 25.5,-25.7 27,-23.7 29,-22.2 31.3,-22.4 32,-26 32.9,-26.8 32,-29 30,-31.5 27,-33.7 25,-34 22,-34.1 20,-34.8 18.4,-34.2 18,-32"],
    "MDG": ["49.3,-12 50.4,-15.5 49.5,-18 47,-25 45,-25.5 43.7,-23.5 44.4,-20 44,-17 47,-15.3"],
    "CPV": ["-24,16 -22.8,16 -23.4,15"],
    # these two sit on top of South Africa, so they come last
    "LSO": ["27,-29.7 28.7,-28.7 29.4,-29.6 28,-30.6"],
    "SWZ": ["31,-25.8 32,-26 32,-27.2 31,-27"],
}


def make_ring(text):
    ring = [[float(v) for v in pair.split(",")] for pair in text.split()]
    # d3 wants clockwise rings
    area = sum(ring[i - 1][0] * ring[i][1] - ring[i][0] * ring[i - 1][1] for i in range(len(ring)))
    if area > 0:
        ring.reverse()
    ring.append(ring[0])
    # extra vertices so long edges stay straight on the map, not great circles
    dense = [ring[0]]
    for a, b in zip(ring, ring[1:]):
        steps = int(max(abs(b[0] - a[0]), abs(b[1] - a[1])) / 2) + 1
        for s in range(1, steps + 1):
            dense.append([a[0] + (b[0] - a[0]) * s / steps, a[1] + (b[1] - a[1]) * s / steps])
    return dense


features = []
for code, rings in outlines.items():
    features.append({"type": "Feature", "id": code, "properties": {},
                     "geometry": {"type": "MultiPolygon", "coordinates": [[make_ring(r)] for r in rings]}})
world = {"type": "FeatureCollection", "features": features}

class_of = {}
for i, group in enumerate([bin_0, bin_1, bin_2, bin_3, bin_4, bin_5, bin_6, bin_7, no_data]):
    for code in group:
        class_of[code] = i

locations = list(outlines)
classes = [class_of[c] for c in locations]
line_colors = ["#b5b5b5" if c in no_data else "#555555" for c in locations]

scale_colors = bin_colors + [no_data_color]
colorscale = []
for i, c in enumerate(scale_colors):
    colorscale += [[i / len(scale_colors), c], [(i + 1) / len(scale_colors), c]]

fig = go.Figure(go.Choropleth(
    geojson=world, locations=locations, z=classes, locationmode="geojson-id",
    colorscale=colorscale, zmin=-0.5, zmax=len(scale_colors) - 0.5, showscale=False,
    marker=dict(line=dict(color=line_colors, width=0.9)),
))
fig.update_geos(
    projection_type="robinson", projection_scale=0.99, projection_rotation_lon=0,
    center=dict(lon=26.8, lat=9.8), domain=dict(x=[0, 1], y=[0, 1]),
    showframe=False, showland=False, showcoastlines=False, showcountries=False,
    showocean=False, showlakes=False, showrivers=False, showsubunits=False, bgcolor="white",
)

W, H = 2048, 1446


def px(x):
    return x / W


def py(y):
    return 1 - y / H


def label(x, y, text, size, color, anchor="left", family="Liberation Sans"):
    fig.add_annotation(x=px(x), y=py(y), xref="paper", yref="paper", text=text, showarrow=False,
                       xanchor=anchor, yanchor="middle", font=dict(family=family, size=size, color=color))


def box(x0, y0, x1, y1, fill, line=None, width=1):
    fig.add_shape(type="rect", xref="paper", yref="paper", x0=px(x0), x1=px(x1), y0=py(y0), y1=py(y1),
                  fillcolor=fill, line=dict(color=line, width=width if line else 0))


def tick(x, y0, y1):
    fig.add_shape(type="line", xref="paper", yref="paper", x0=px(x), x1=px(x), y0=py(y0), y1=py(y1),
                  line=dict(color="#666666", width=1))


label(33.5, 63, "Total confirmed COVID-19 deaths per million people, Aug 6, 2020", 63.7, "#5b5b5b", family="Liberation Serif")
label(33.5, 121, "Limited testing and challenges in the attribution of the cause of death means that the number of confirmed deaths", 34.7, "#5b5b5b")
label(33.5, 163, "may not be an accurate count of the true total number of deaths from COVID-19.", 34.7, "#5b5b5b")

# logo
box(1865, 36, 2011, 120, "#002147")
box(1865, 111, 2011, 120, "#dc2e1c")
label(1938, 59, "Our World", 29, "white", "center")
label(1938, 91, "in Data", 29, "white", "center")

# legend
bar_left, bar_step = 384, 178.9
bar_top, bar_bottom = 1310, 1334
box(234, bar_top, 348, bar_bottom, no_data_color, "#9a9a9a")
tick(290, 1303, bar_top)
label(290, 1257.5, "No data", 32.7, "black", "center")
for i, c in enumerate(bin_colors):
    box(bar_left + i * bar_step, bar_top, bar_left + (i + 1) * bar_step, bar_bottom, c, "#7f7f7f")
for i, t in enumerate(bin_labels):
    tick(bar_left + i * bar_step, 1303, bar_top)
    label(bar_left + i * bar_step, 1257.5, t, 32.7, "black", "center")

label(33.5, 1391.5, "Source: European CDC – Situation Update Worldwide – Last updated 6 August, 10:04 (London time)", 30.5, "#858585")
label(2007, 1391.5, "OurWorldInData.org/coronavirus • CC BY", 30.4, "#858585", "right")

fig.update_layout(width=W, height=H, margin=dict(l=0, r=0, t=0, b=0), paper_bgcolor="white", showlegend=False)

# plotly asks for its base map even with every base layer off; hand it an empty one
empty_topology = "data:application/json,%7B%22type%22%3A%22Topology%22%2C%22objects%22%3A%7B%7D%2C%22arcs%22%3A%5B%5D%7D#"
fig.write_html("out.html", config={"topojsonURL": empty_topology, "displayModeBar": False},
               post_script="document.body.style.margin='0';document.body.style.overflow='hidden';")
